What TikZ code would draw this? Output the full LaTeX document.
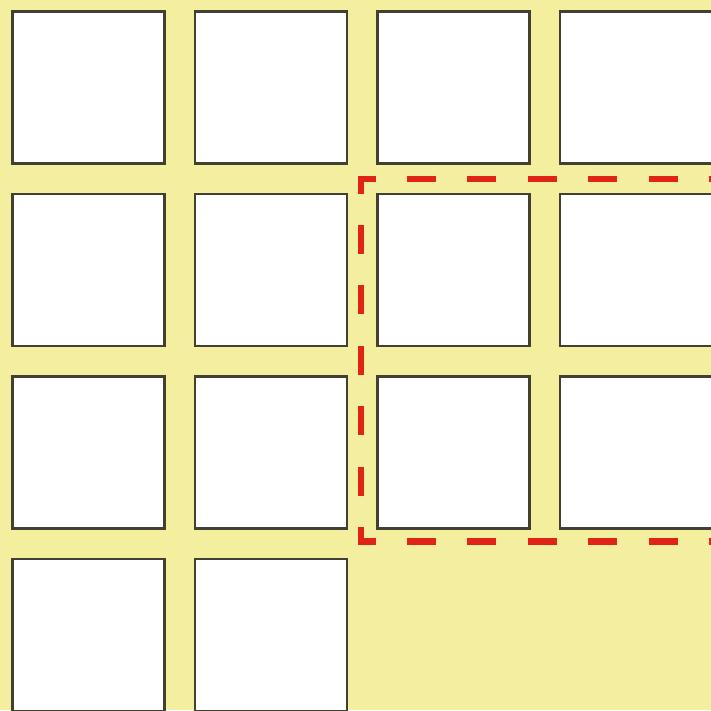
\documentclass[tikz,border=0pt]{standalone}
\usepackage{tikz}
\definecolor{padyellow}{RGB}{244,239,158}
\definecolor{celledge}{RGB}{66,64,48}
\definecolor{selred}{RGB}{224,36,22}

\begin{document}
\begin{tikzpicture}[x=1pt,y=-1pt,
  cell/.style={rectangle, draw=celledge, line width=2.8pt, fill=white,
    minimum size=152pt, inner sep=0pt, anchor=north west},
  selection/.style={draw=selred, line width=6.5pt, line join=miter,
    dash pattern=on 29pt off 31.4pt, dash phase=14.5pt}]
% Parameters
\def\pitch{182.5}
\def\left{11}
\def\top{10}
% Page and background
\useasboundingbox (0,0) rectangle (711,710);
\clip (0,0) rectangle (711,710);
\fill[padyellow] (0,0) rectangle (711,710);
% Full rows of cells
\foreach \r in {0,1,2}
  \foreach \c in {0,...,3}
    \node[cell] (cell-\r-\c) at ({\left+\c*\pitch},{\top+\r*\pitch}) {};
% Last row, two cells only
\foreach \c in {0,1}
  \node[cell] (cell-3-\c) at ({\left+\c*\pitch},{\top+3*\pitch}) {};
% Selection corners
\coordinate (sel-ne) at (723.4,179);
\coordinate (sel-nw) at (361,179);
\coordinate (sel-sw) at (361,541.4);
\coordinate (sel-se) at (723.4,541.4);
% Dashed selection round the right block
\draw[selection] (sel-ne) -- (sel-nw) -- (sel-sw) -- (sel-se);
\end{tikzpicture}
\end{document}
